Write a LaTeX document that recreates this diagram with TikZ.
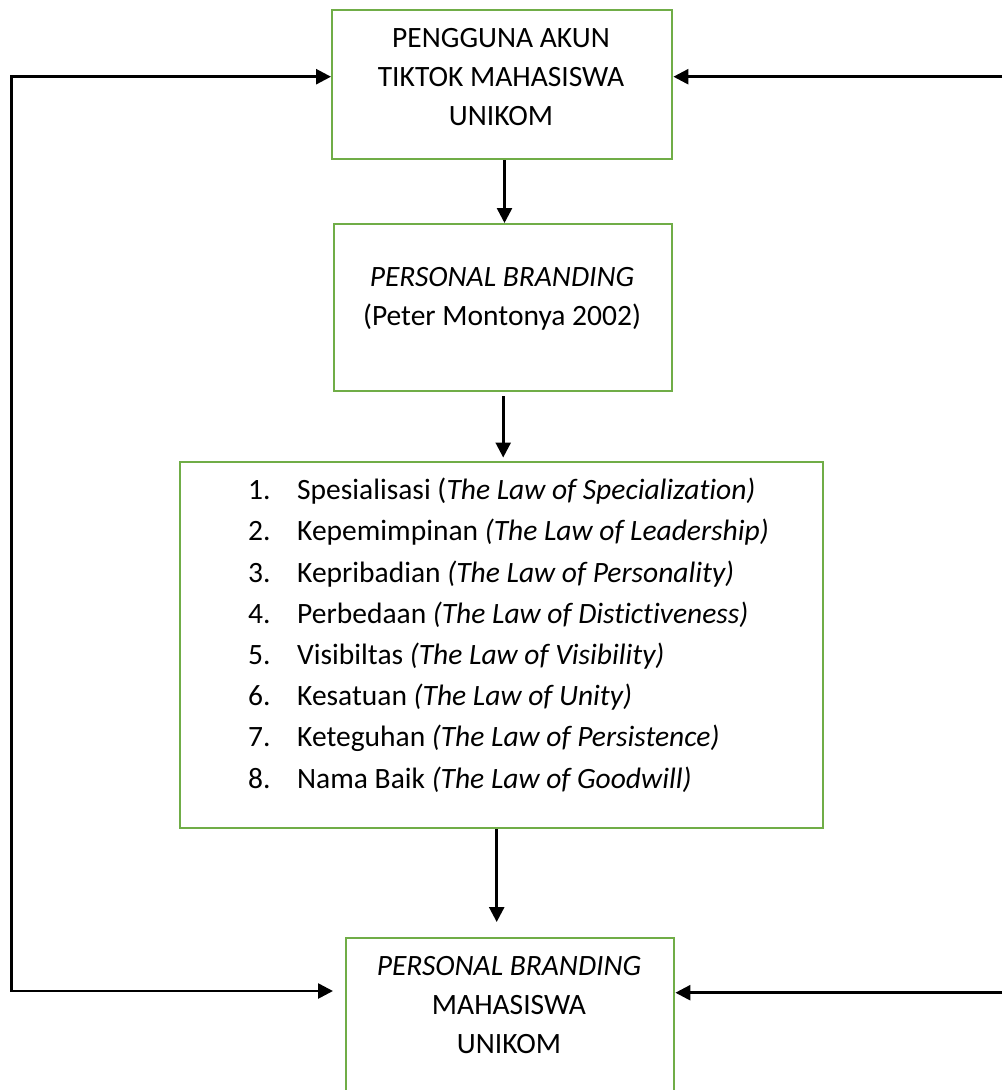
\documentclass[tikz,border=0pt]{standalone}
\usepackage{fontspec}
\setmainfont{Carlito}[RawFeature=-liga]
\usetikzlibrary{arrows.meta,calc}
\definecolor{boxgreen}{HTML}{70AD47}
\begin{document}
\begin{tikzpicture}[x=1pt,y=-1pt,
  box/.style={draw=boxgreen,line width=2.4pt,inner sep=0pt,anchor=north west},
  txt/.style={inner sep=0pt,align=center,anchor=north,font=\fontsize{29.5}{39}\selectfont},
  item/.style={inner sep=0pt,anchor=base west,font=\fontsize{29.5}{39}\selectfont},
  arr/.style={line width=2.6pt,line join=miter,-{Triangle[length=15pt,width=15pt]}}]
\useasboundingbox (0,0) rectangle (1002,1090);
\clip (0,0) rectangle (1002,1090);

% boxes
\node[box,minimum width=340pt,minimum height=149pt] (top) at (331,9) {};
\node[box,minimum width=338pt,minimum height=167pt] (pb) at (333,223) {};
\node[box,minimum width=643pt,minimum height=366pt] (laws) at (179,460.5) {};
\node[box,minimum width=328pt,minimum height=200pt] (res) at (345,937) {};

% box texts
\node[txt] (topt) at (501,28.3) {PENGGUNA AKUN\\TIKTOK MAHASISWA\\UNIKOM};
\node[txt] (pbt) at (502,266.8) {\textit{PERSONAL BRANDING}\\(Peter Montonya 2002)};
\node[txt] (rest) at (509,956.6) {\textit{PERSONAL BRANDING}\\MAHASISWA\\UNIKOM};

% list
\node[item] (i1) at (248,499.7) {\makebox[49pt][l]{1.}Spesialisasi (\textit{The Law of Specialization)}};
\node[item] (i2) at (248,540.9) {\makebox[49pt][l]{2.}Kepemimpinan \textit{(The Law of Leadership)}};
\node[item] (i3) at (248,582.1) {\makebox[49pt][l]{3.}Kepribadian \textit{(The Law of Personality)}};
\node[item] (i4) at (248,623.3) {\makebox[49pt][l]{4.}Perbedaan \textit{(The Law of Distictiveness)}};
\node[item] (i5) at (248,664.5) {\makebox[49pt][l]{5.}Visibiltas \textit{(The Law of Visibility)}};
\node[item] (i6) at (248,705.7) {\makebox[49pt][l]{6.}Kesatuan \textit{(The Law of Unity)}};
\node[item] (i7) at (248,746.9) {\makebox[49pt][l]{7.}Keteguhan \textit{(The Law of Persistence)}};
\node[item] (i8) at (248,788.1) {\makebox[49pt][l]{8.}Nama Baik \textit{(The Law of Goodwill)}};

% loop corners / free ends
\coordinate (L1) at (11.7,76.7);
\coordinate (L2) at (11.7,991);
\coordinate (R1) at (1002,76.7);
\coordinate (R2) at (1002,992.7);

% connectors
\draw[arr] (L2) -- (L1) -- (L1 -| top.west);
\draw[arr] ([xshift=-1.3pt]L2) -- ($(L2 -| res.west)+(-12,0)$);
\draw[arr] (R1) -- (R1 -| top.east);
\draw[arr] (R2) -- (R2 -| res.east);
\draw[arr] ($(top.south)+(2.3,0)$) -- ($(top.south |- pb.north)+(2.3,0)$);
\draw[arr] ($(pb.south)+(0,4)$) -- ($(pb.south |- laws.north)+(0,-3)$);
\draw[arr] ($(laws.south)+(-5,0)$) -- ($(laws.south |- res.north)+(-5,-15)$);
\end{tikzpicture}
\end{document}
